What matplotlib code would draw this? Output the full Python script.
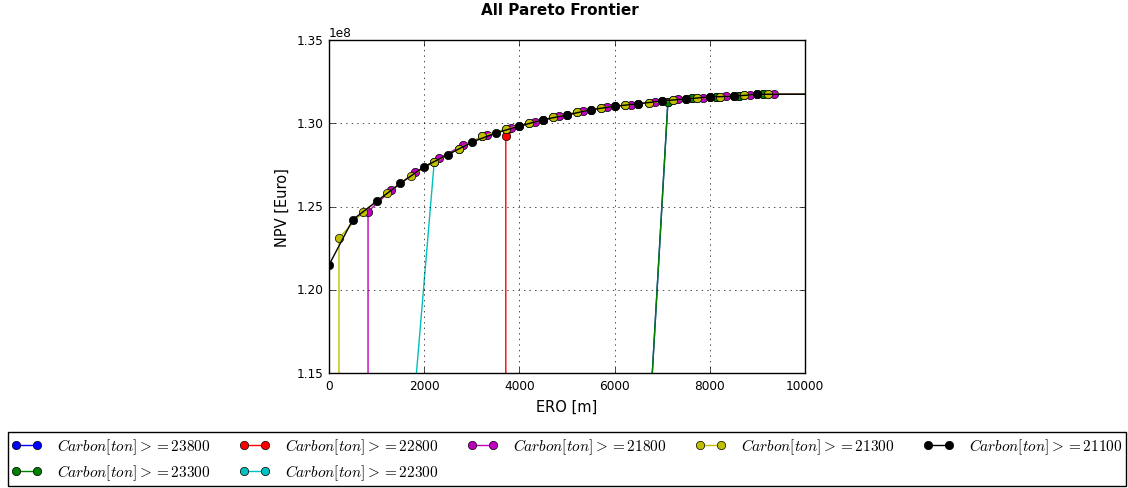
import matplotlib
matplotlib.use('Agg')
import matplotlib.pyplot as plt

plt.style.use('classic')
plt.rcParams['font.size'] = 11
plt.rcParams['xtick.labelsize'] = 8.7
plt.rcParams['ytick.labelsize'] = 8.7

# ERO [m] / NPV [1e8 Euro] of each Pareto frontier
ero_23800 = [6490, 7120, 7620, 8120, 8620, 9120, 12000]
npv_23800 = [1.000, 1.3130, 1.3150, 1.3158, 1.3166, 1.3174, 1.3174]

ero_23300 = [6490, 7120, 7620, 8120, 8620, 9120, 12000]
npv_23300 = [1.000, 1.3130, 1.3150, 1.3158, 1.3166, 1.3174, 1.3174]

ero_22800 = [3714, 3714, 4000, 4500, 5000, 5500, 6000, 6500, 7000, 7500,
             8000, 8500, 9000, 12000]
npv_22800 = [1.100, 1.2922, 1.2983, 1.3021, 1.3050, 1.3081, 1.3102, 1.3117,
             1.3134, 1.3146, 1.3158, 1.3162, 1.3174, 1.3174]

ero_22300 = [1690, 2210, 2730, 3220, 3720, 4210, 4710, 5220, 5720, 6220,
             6720, 7230, 7730, 8220, 8710, 9220, 12000]
npv_22300 = [1.100, 1.2765, 1.2848, 1.2922, 1.2965, 1.2999, 1.3036, 1.3066,
             1.3093, 1.3108, 1.3122, 1.3138, 1.3152, 1.3158, 1.3168, 1.3174,
             1.3174]

ero_21800 = [820, 820, 1310, 1810, 2320, 2820, 3320, 3830, 4330, 4840, 5340,
             5830, 6340, 6840, 7340, 7850, 8350, 8840, 9340, 12000]
npv_21800 = [1.100, 1.2469, 1.2599, 1.2705, 1.2791, 1.2869, 1.2929, 1.2973,
             1.3009, 1.3042, 1.3074, 1.3098, 1.3111, 1.3128, 1.3144, 1.3153,
             1.3163, 1.3170, 1.3174, 1.3174]

ero_21300 = [210, 210, 710, 1220, 1720, 2210, 2730, 3220, 3720, 4210, 4710,
             5220, 5720, 6220, 6720, 7230, 7730, 8220, 8710, 9220, 12000]
npv_21300 = [1.100, 1.2311, 1.2465, 1.2579, 1.2685, 1.2765, 1.2848, 1.2922,
             1.2965, 1.2999, 1.3036, 1.3066, 1.3093, 1.3108, 1.3122, 1.3138,
             1.3152, 1.3158, 1.3168, 1.3174, 1.3174]

ero_21100 = [0, 500, 1000, 1500, 2000, 2500, 3000, 3500, 4000, 4500, 5000,
             5500, 6000, 6500, 7000, 7500, 8000, 8500, 9000, 12000]
npv_21100 = [1.2149, 1.2421, 1.2531, 1.2639, 1.2739, 1.2812, 1.2886, 1.2941,
             1.2983, 1.3021, 1.3050, 1.3081, 1.3102, 1.3117, 1.3134, 1.3146,
             1.3158, 1.3162, 1.3174, 1.3174]

serije = [
    (23800, ero_23800, npv_23800, 'b'),
    (23300, ero_23300, npv_23300, 'g'),
    (22800, ero_22800, npv_22800, 'r'),
    (22300, ero_22300, npv_22300, 'c'),
    (21800, ero_21800, npv_21800, 'm'),
    (21300, ero_21300, npv_21300, 'y'),
    (21100, ero_21100, npv_21100, 'k'),
]

fig = plt.figure(figsize=(11.28, 4.89), dpi=100, facecolor='white')
ax = fig.add_axes([329 / 1128, 1 - 374 / 489, 476 / 1128, 333 / 489])

for carbon, ero, npv, barva in serije:
    ax.plot(ero, [v * 1e8 for v in npv], marker='o', color=barva,
            markersize=6, linewidth=1,
            label=r'$Carbon[ton]>=%d$' % carbon)

ax.set_xlim(0, 10000)
ax.set_ylim(1.15e8, 1.35e8)
ax.set_xticks(range(0, 10001, 2000))
ax.set_yticks([1.15e8, 1.20e8, 1.25e8, 1.30e8, 1.35e8])
ax.ticklabel_format(axis='y', style='sci', scilimits=(0, 0), useOffset=False)
ax.grid(True)
ax.set_title('All Pareto Frontier', fontweight='bold', fontsize=11, pad=19,
             x=0.485)
ax.set_xlabel('ERO [m]', fontsize=10.5)
ax.set_ylabel('NPV [Euro]', fontsize=10.5)
ax.legend(loc='upper center', bbox_to_anchor=(0.5, -0.155), ncol=5,
          numpoints=2, fontsize=11, columnspacing=1.86, handletextpad=1.0,
          borderpad=0.25, labelspacing=0.42)

fig.savefig('out.png', dpi=100, facecolor='white')
